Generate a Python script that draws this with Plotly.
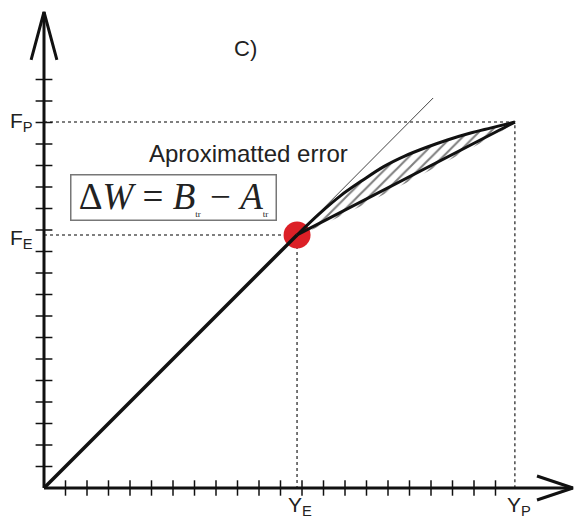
import plotly.graph_objects as go

# Key points of the force / displacement diagram (axis units = tick spacing)
Y_E, F_E = 11.77, 11.77      # elastic limit point
Y_P, F_P = 21.9, 17.02       # plastic point
TANGENT_END = [18.1, 18.14]  # end of the extended elastic tangent

# Real (upper) curve from the elastic point to the plastic point
curve_x = [11.77, 12.8, 13.8, 14.8, 15.8, 16.8, 17.8, 18.8, 19.8, 20.8, 21.9]
curve_y = [11.77, 12.75, 13.6, 14.3, 14.95, 15.45, 15.85, 16.2, 16.5, 16.75, 17.02]

x_ticks = list(range(1, 22))
y_ticks = list(range(1, 20))
X_END, Y_END = 24.6, 22.14   # arrow tips of the axes

ink = "#111111"
fig = go.Figure()

# dotted guide lines
for xs, ys in [([0, Y_P, Y_P], [F_P, F_P, 0]), ([0, Y_E, Y_E], [F_E, F_E, 0])]:
    fig.add_trace(go.Scatter(x=xs, y=ys, mode="lines",
                             line=dict(color="#555555", width=1.6, dash="dot")))

# hatched error area between the real curve and the chord
fig.add_trace(go.Scatter(
    x=curve_x + [Y_E], y=curve_y + [F_E], mode="lines", fill="toself",
    fillcolor="rgba(0,0,0,0)", line=dict(width=0, shape="spline"),
    fillpattern=dict(shape="/", fgcolor="#000000", bgcolor="white",
                     size=8, solidity=0.26)))

# red marker at the elastic point
fig.add_trace(go.Scatter(x=[Y_E], y=[F_E], mode="markers",
                         marker=dict(size=27, color="#dc2027")))

# elastic line and its thin tangent extension
fig.add_trace(go.Scatter(x=[0, Y_E], y=[0, F_E], mode="lines",
                         line=dict(color=ink, width=3.5)))
fig.add_trace(go.Scatter(x=[Y_E, TANGENT_END[0]], y=[F_E, TANGENT_END[1]],
                         mode="lines", line=dict(color="#444444", width=1)))

# real curve and chord
fig.add_trace(go.Scatter(x=curve_x, y=curve_y, mode="lines",
                         line=dict(color=ink, width=3, shape="spline")))
fig.add_trace(go.Scatter(x=[Y_E, Y_P], y=[F_E, F_P], mode="lines",
                         line=dict(color=ink, width=3)))

# axes with open arrow heads
fig.add_trace(go.Scatter(x=[0, X_END], y=[0, 0], mode="lines",
                         line=dict(color=ink, width=3)))
fig.add_trace(go.Scatter(x=[0, 0], y=[0, Y_END], mode="lines",
                         line=dict(color=ink, width=3)))
fig.add_trace(go.Scatter(x=[X_END - 1.67, X_END, X_END - 1.67], y=[0.56, 0, -0.56],
                         mode="lines", line=dict(color=ink, width=3)))
fig.add_trace(go.Scatter(x=[-0.6, 0, 0.6], y=[Y_END - 2.23, Y_END, Y_END - 2.23],
                         mode="lines", line=dict(color=ink, width=3)))

# tick marks crossing the axes
fig.add_trace(go.Scatter(x=x_ticks, y=[0] * len(x_ticks), mode="markers",
                         marker=dict(symbol="line-ns", size=11,
                                     line=dict(color=ink, width=1.5))))
fig.add_trace(go.Scatter(x=[0] * len(y_ticks), y=y_ticks, mode="markers",
                         marker=dict(symbol="line-ew", size=12,
                                     line=dict(color=ink, width=1.5))))

sans = "Liberation Sans, Arial, sans-serif"
lab = dict(family=sans, size=21, color="#222222")
sub = '<sub><span style="font-size:9px">tr</span></sub>'
ann = [
    dict(x=9.35, y=20.45, text="C)", font=dict(family=sans, size=22, color="#222222")),
    dict(x=-1.05, y=F_P, text="F<sub>P</sub>", font=lab),
    dict(x=-1.05, y=F_E - 0.2, text="F<sub>E</sub>", font=lab),
    dict(x=Y_E + 0.15, y=-0.85, text="Y<sub>E</sub>", font=lab),
    dict(x=Y_P + 0.2, y=-0.85, text="Y<sub>P</sub>", font=lab),
    dict(x=9.5, y=15.55, text="Aproximatted error",
         font=dict(family=sans, size=24, color="#222222")),
    dict(x=6.0, y=13.51,
         text="Δ<i>W</i> = <i>B</i>" + sub + " − <i>A</i>" + sub,
         font=dict(family="Liberation Serif, Times New Roman, serif", size=37,
                   color="#222222"),
         bordercolor="#777777", borderwidth=1.5, borderpad=1,
         bgcolor="white", width=202, height=42),
]
for a in ann:
    fig.add_annotation(xref="x", yref="y", showarrow=False, **a)

fig.update_layout(
    width=574, height=522, margin=dict(l=0, r=0, t=0, b=0),
    paper_bgcolor="white", plot_bgcolor="white", showlegend=False,
    xaxis=dict(range=[-44 / 21.5, 530 / 21.5], visible=False),
    yaxis=dict(range=[-34 / 21.5, 488 / 21.5], visible=False),
)
fig.write_html("out.html")
